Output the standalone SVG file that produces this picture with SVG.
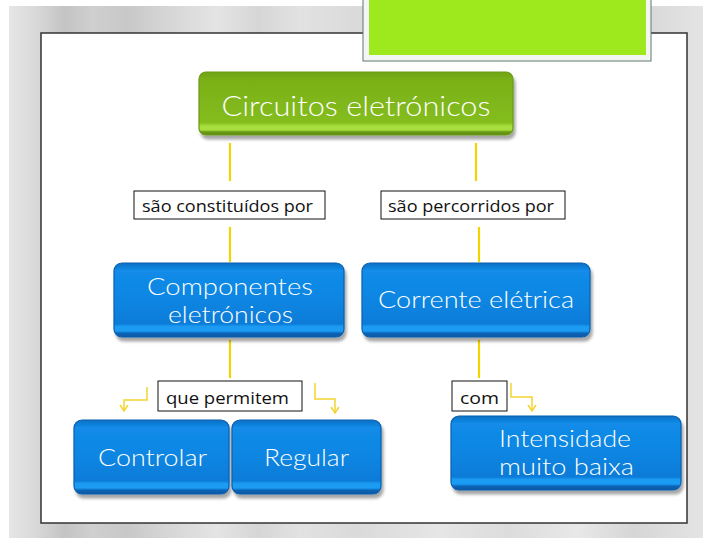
<svg xmlns="http://www.w3.org/2000/svg" width="703" height="538" viewBox="0 0 703 538">
<defs>
<linearGradient id="bg" x1="0" y1="0" x2="1" y2="0">
<stop offset="0" stop-color="#e6e6e6"/>
<stop offset="0.04" stop-color="#d8d8d8"/>
<stop offset="0.08" stop-color="#c4c4c4"/>
<stop offset="0.12" stop-color="#cfcfcf"/>
<stop offset="0.17" stop-color="#c8c8c8"/>
<stop offset="0.22" stop-color="#d4d4d4"/>
<stop offset="0.3" stop-color="#e4e4e4"/>
<stop offset="0.36" stop-color="#d6d6d6"/>
<stop offset="0.42" stop-color="#e2e2e2"/>
<stop offset="0.5" stop-color="#dadada"/>
<stop offset="0.62" stop-color="#e6e6e6"/>
<stop offset="0.72" stop-color="#dcdcdc"/>
<stop offset="0.82" stop-color="#e8e8e8"/>
<stop offset="0.9" stop-color="#d6d6d6"/>
<stop offset="1" stop-color="#e4e4e4"/>
</linearGradient>
<linearGradient id="green" x1="0" y1="0" x2="0" y2="1">
<stop offset="0" stop-color="#6fa414"/>
<stop offset="0.12" stop-color="#7ab018"/>
<stop offset="0.8" stop-color="#84bd1c"/>
<stop offset="0.86" stop-color="#a8de3c"/>
<stop offset="0.92" stop-color="#a8de3c"/>
<stop offset="0.95" stop-color="#6a9a14"/>
<stop offset="1" stop-color="#5f8c10"/>
</linearGradient>
<linearGradient id="blue" x1="0" y1="0" x2="0" y2="1">
<stop offset="0" stop-color="#0b6fc4"/>
<stop offset="0.1" stop-color="#128be8"/>
<stop offset="0.5" stop-color="#0f86e2"/>
<stop offset="0.82" stop-color="#0b7bd8"/>
<stop offset="0.86" stop-color="#1b9bf2"/>
<stop offset="0.92" stop-color="#1b9bf2"/>
<stop offset="0.95" stop-color="#0a62b4"/>
<stop offset="1" stop-color="#0a58a6"/>
</linearGradient>
<filter id="sh" x="-10%" y="-10%" width="125%" height="140%">
<feDropShadow dx="2" dy="4" stdDeviation="1.6" flood-color="#000" flood-opacity="0.35"/>
</filter>
<marker id="ah" viewBox="0 0 8 10" refX="7" refY="5" markerWidth="8" markerHeight="10" markerUnits="userSpaceOnUse" orient="auto">
<path d="M1,1 L7,5 L1,9" fill="none" stroke="#f2d530" stroke-width="1.5"/>
</marker>
</defs>
<style>
.ntx{font-family:Lato,"Open Sans","DejaVu Sans",sans-serif;font-weight:300;fill:#fff;text-anchor:middle}
.ltx{font-family:"Open Sans","DejaVu Sans",sans-serif;font-size:17px;fill:#111;text-anchor:middle}
.lbox{fill:#fff;stroke:#111;stroke-width:1}
.bn{fill:url(#blue);stroke:#0a5fae;stroke-width:1.2;filter:url(#sh)}
.conn{stroke:#f4d400;stroke-width:2.2;fill:none}
.elb{stroke:#f2d530;stroke-width:1.5;fill:none}
</style>
<rect x="0" y="0" width="703" height="538" fill="#fff"/>
<rect x="9" y="6" width="694" height="532" fill="url(#bg)"/>
<rect x="41" y="33" width="646" height="490" fill="#fff" stroke="#333" stroke-width="1.5"/>
<g id="header">
<rect x="363" y="-2" width="288" height="63" fill="#f4f6f4" stroke="#5e7a70" stroke-width="1"/>
<rect x="369" y="0" width="277" height="55" fill="#9ee81e"/>
</g>
<g id="connectors">
<line class="conn" x1="230" y1="143" x2="230" y2="181"/>
<line class="conn" x1="476" y1="143" x2="476" y2="181"/>
<line class="conn" x1="230" y1="227" x2="230" y2="262"/>
<line class="conn" x1="479" y1="227" x2="479" y2="262"/>
<line class="conn" x1="230" y1="340" x2="230" y2="378"/>
<line class="conn" x1="479" y1="340" x2="479" y2="378"/>
<polyline class="elb" points="147,387 147,400 124,400 124,411" marker-end="url(#ah)"/>
<polyline class="elb" points="315,383 315,399 335,399 335,413" marker-end="url(#ah)"/>
<polyline class="elb" points="511,383 511,397 532,397 532,411" marker-end="url(#ah)"/>
</g>
<g id="n-circuitos">
<rect x="199" y="72" width="314" height="63" rx="7" fill="url(#green)" stroke="#6a9a14" stroke-width="1.2" filter="url(#sh)"/>
<text class="ntx" x="356" y="116" font-size="28" textLength="269" lengthAdjust="spacingAndGlyphs">Circuitos eletrónicos</text>
</g>
<g id="l-constituidos">
<rect class="lbox" x="134" y="191" width="191" height="28"/>
<text class="ltx" x="227.5" y="212" textLength="171" lengthAdjust="spacingAndGlyphs">são constituídos por</text>
</g>
<g id="l-percorridos">
<rect class="lbox" x="381" y="191" width="184" height="28"/>
<text class="ltx" x="471" y="212" textLength="166" lengthAdjust="spacingAndGlyphs">são percorridos por</text>
</g>
<g id="n-componentes">
<rect class="bn" x="114" y="263" width="230" height="74" rx="8"/>
<text class="ntx" x="230" y="295" font-size="23" textLength="166" lengthAdjust="spacingAndGlyphs">Componentes</text>
<text class="ntx" x="230.5" y="323" font-size="23" textLength="125" lengthAdjust="spacingAndGlyphs">eletrónicos</text>
</g>
<g id="n-corrente">
<rect class="bn" x="362" y="263" width="228" height="74" rx="8"/>
<text class="ntx" x="476" y="308" font-size="24" textLength="196" lengthAdjust="spacingAndGlyphs">Corrente elétrica</text>
</g>
<g id="l-permitem">
<rect class="lbox" x="158" y="381" width="144" height="30"/>
<text class="ltx" x="227.5" y="404" textLength="123" lengthAdjust="spacingAndGlyphs">que permitem</text>
</g>
<g id="l-com">
<rect class="lbox" x="452" y="381" width="55" height="30"/>
<text class="ltx" x="479.5" y="404" textLength="39" lengthAdjust="spacingAndGlyphs">com</text>
</g>
<g id="n-controlar">
<rect class="bn" x="74" y="420" width="155" height="74" rx="8"/>
<text class="ntx" x="152.5" y="466" font-size="24" textLength="109" lengthAdjust="spacingAndGlyphs">Controlar</text>
</g>
<g id="n-regular">
<rect class="bn" x="232" y="420" width="149" height="74" rx="8"/>
<text class="ntx" x="306.5" y="466" font-size="24" textLength="85" lengthAdjust="spacingAndGlyphs">Regular</text>
</g>
<g id="n-intensidade">
<rect class="bn" x="451" y="416" width="230" height="74" rx="8"/>
<text class="ntx" x="565" y="447" font-size="23" textLength="132" lengthAdjust="spacingAndGlyphs">Intensidade</text>
<text class="ntx" x="566.5" y="475" font-size="23" textLength="135" lengthAdjust="spacingAndGlyphs">muito baixa</text>
</g>
</svg>
